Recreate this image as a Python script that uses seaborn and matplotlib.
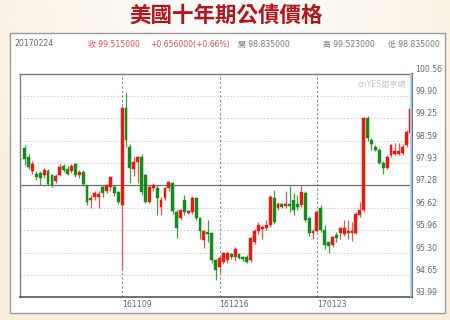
import numpy as np
import pandas as pd
import matplotlib
matplotlib.use("Agg")
import matplotlib.pyplot as plt
from matplotlib.patches import Rectangle
import seaborn as sns

# ---------------- data ----------------
opens = [98.37, 98.12, 97.70, 97.60, 97.63, 97.58, 97.70, 97.58, 97.42, 97.58,
         97.85, 97.76, 97.70, 97.90, 97.57, 97.68, 97.28, 96.86, 96.95, 96.95,
         97.24, 97.12, 97.22, 97.24, 97.09, 96.70,
         99.55, 98.42, 97.76, 97.98, 98.12, 97.58, 96.80, 97.20, 97.19, 96.65,
         96.90, 97.19, 97.34, 96.50, 96.31, 96.85, 96.47, 96.50, 96.90, 96.31,
         95.67, 95.90, 95.87, 95.08,
         94.88, 95.03, 95.08, 95.25, 95.18, 95.26, 95.16, 95.18, 95.08, 95.62,
         95.92, 96.00, 96.02, 96.11, 96.90, 96.62, 96.72, 96.68, 96.72, 96.85,
         96.72, 96.70, 97.05, 96.31, 95.87,
         95.92, 96.60, 95.96, 95.60, 95.52, 95.82, 95.87, 95.84, 95.87, 95.87,
         95.87, 96.41, 96.55, 99.25, 98.62, 98.40, 98.32, 97.93, 97.78, 98.18,
         98.20, 98.20, 98.22, 98.47, 98.835]
closes = [98.06, 97.83, 97.90, 97.52, 97.49, 97.73, 97.32, 97.29, 97.56, 97.83,
          97.74, 97.62, 97.86, 97.58, 97.66, 97.31, 96.80, 96.92, 97.06, 97.02,
          97.06, 97.28, 97.54, 97.04, 96.80, 99.55,
          98.62, 97.78, 97.96, 98.12, 97.09, 96.80, 97.24, 97.29, 96.90, 96.85,
          97.19, 97.39, 96.52, 96.01, 96.55, 96.48, 96.51, 96.92, 96.31, 95.92,
          95.92, 95.86, 95.08, 94.79,
          95.13, 95.28, 95.28, 95.18, 95.40, 95.14, 95.10, 95.03, 95.72, 95.92,
          96.11, 96.04, 96.10, 96.95, 96.21, 96.72, 96.64, 96.72, 96.68, 96.55,
          96.65, 97.09, 96.26, 95.87, 95.92,
          96.50, 95.96, 95.52, 95.50, 95.77, 95.72, 96.01, 96.01, 95.92, 95.92,
          96.45, 96.55, 99.25, 98.67, 98.50, 98.32, 97.93, 97.78, 98.12, 98.47,
          98.30, 98.30, 98.40, 98.86, 99.515]
highs = [98.48, 98.20, 98.00, 97.70, 97.70, 97.80, 97.75, 97.62, 97.60, 97.90,
         97.92, 97.85, 97.90, 97.95, 97.72, 97.72, 97.30, 97.00, 97.10, 97.12,
         97.30, 97.32, 97.56, 97.30, 97.12, 99.58,
         100.04, 98.50, 98.12, 98.15, 98.20, 97.62, 97.30, 97.35, 97.30, 96.95,
         97.22, 97.42, 97.38, 96.56, 96.58, 97.00, 96.55, 96.96, 96.95, 96.35,
         95.96, 96.25, 95.90, 95.12,
         95.20, 95.32, 95.32, 95.30, 95.45, 95.30, 95.20, 95.22, 95.75, 96.00,
         96.20, 96.10, 96.25, 97.00, 97.15, 96.80, 96.75, 97.10, 97.25, 97.05,
         97.00, 97.30, 97.10, 96.35, 95.98,
         96.55, 96.70, 96.10, 95.65, 95.80, 95.90, 96.05, 96.25, 96.25, 96.20,
         96.50, 96.80, 99.28, 99.33, 98.68, 98.48, 98.38, 98.00, 98.16, 98.50,
         98.52, 98.52, 98.50, 98.90, 99.523]
lows = [97.88, 97.75, 97.62, 97.45, 97.30, 97.50, 97.28, 97.22, 97.35, 97.55,
        97.68, 97.58, 97.65, 97.52, 97.50, 97.25, 96.70, 96.60, 96.85, 96.62,
        96.95, 97.05, 97.12, 96.98, 96.72, 94.84,
        98.40, 97.34, 97.55, 97.34, 97.00, 96.75, 96.75, 97.10, 96.40, 96.40,
        96.85, 97.12, 96.45, 95.72, 96.25, 96.40, 96.45, 96.45, 96.25, 95.70,
        95.42, 95.62, 94.98, 94.49,
        94.70, 94.95, 95.00, 95.10, 95.05, 95.10, 95.05, 95.00, 95.02, 95.55,
        95.85, 95.70, 95.95, 96.05, 96.15, 96.55, 96.60, 96.60, 96.50, 96.40,
        96.55, 96.65, 96.20, 95.80, 95.70,
        95.90, 95.90, 95.40, 95.30, 95.45, 95.60, 95.70, 95.80, 95.70, 95.65,
        95.85, 96.35, 96.50, 98.60, 98.32, 98.28, 97.90, 97.62, 97.75, 98.12,
        98.16, 98.16, 98.18, 98.40, 98.835]

y_ticks = [93.99, 94.65, 95.30, 95.96, 96.62, 97.28, 97.93, 98.59, 99.25, 99.90, 100.56]
y_tick_labels = ["93.99", "94.65", "95.30", "95.96", "96.62", "97.28",
                 "97.93", "98.59", "99.25", "99.90", "100.56"]
date_tick_idx = [25, 50, 75]
date_tick_labels = ["161109", "161216", "170123"]
ref_price = 97.28

title = "美國十年期公債價格"
header_date = "20170224"
header_close = "收 99.515000"
header_change = "+0.656000(+0.66%)"
header_open = "開 98.835000"
header_high = "高 99.523000"
header_low = "低 98.835000"
watermark = "cnYES鉅亨網"

df = pd.DataFrame({"open": opens, "close": closes, "high": highs, "low": lows})
df["idx"] = np.arange(len(df))
df["up"] = df["close"] >= df["open"]

# ---------------- style ----------------
sns.set_theme(style="white")
plt.rcParams["font.family"] = ["DejaVu Sans", "Noto Sans CJK TC"]

RED = "#ea1a12"
GREEN = "#138c1c"
RED_W = "#ef5650"
GREEN_W = "#3aa53f"

W, H = 450, 320
fig = plt.figure(figsize=(4.5, 3.2), dpi=100)

# background gradient
bg = fig.add_axes([0, 0, 1, 1], zorder=-10)
yy, xx = np.mgrid[0:H, 0:W]
r = np.sqrt(((xx - 225) / 300.0) ** 2 + ((yy - 0) / 260.0) ** 2)
r = np.clip(r, 0, 1)
c0 = np.array([1.0, 1.0, 1.0])
c1 = np.array([0xf9, 0xee, 0xdc]) / 255.0
img = c0[None, None, :] * (1 - r[..., None]) + c1[None, None, :] * r[..., None]
bg.imshow(img, extent=[0, W, H, 0], aspect="auto")
bg.set_xlim(0, W)
bg.set_ylim(H, 0)
bg.axis("off")

# white panel
bg.add_patch(Rectangle((10, 33), 435, 280, facecolor="white", edgecolor="#9a9a9a", lw=1.0))

# title
bg.text(226, 15, title, ha="center", va="center", fontsize=15.5, color="#b3161c",
        fontweight="bold", family=["Noto Sans CJK TC"])

# header row
hy = 44
bg.text(14, hy, header_date, ha="left", va="center", fontsize=5.6, color="#666666")
bg.text(88, hy, header_close, ha="left", va="center", fontsize=5.6, color="#e8504a")
bg.text(150, hy, header_change, ha="left", va="center", fontsize=5.6, color="#e8504a")
bg.text(238, hy, header_open, ha="left", va="center", fontsize=5.6, color="#777777")
bg.text(323, hy, header_high, ha="left", va="center", fontsize=5.6, color="#777777")
bg.text(388, hy, header_low, ha="left", va="center", fontsize=5.6, color="#777777")

# main axes
left, right, top, bottom = 20, 412, 74, 297
ax = fig.add_axes([left / W, 1 - bottom / H, (right - left) / W, (bottom - top) / H])
ax.set_facecolor("white")
ax.set_xlim(-1.2, 99.4)
ax.set_ylim(93.99, 100.56)

# grid lines
for yv in y_ticks:
    if abs(yv - ref_price) < 1e-6:
        continue
    ax.axhline(yv, color="#d4d4d4", lw=0.8, ls=(0, (1.5, 1.5)), zorder=0)
ax.axhline(ref_price, color="#6e6e6e", lw=0.9, zorder=1)
for xi in date_tick_idx:
    ax.axvline(xi, color="#8c8c8c", lw=0.8, ls=(0, (2, 2)), zorder=0)

# candles
body_w = 0.74
for up, col, wcol in [(True, RED, RED_W), (False, GREEN, GREEN_W)]:
    sub = df[df["up"] == up]
    ax.vlines(sub["idx"], sub["low"], sub["high"], color=wcol, lw=0.9, zorder=2)
    lo = np.minimum(sub["open"], sub["close"])
    hgt = np.maximum(np.abs(sub["close"] - sub["open"]), 0.03)
    ax.bar(sub["idx"], hgt, bottom=lo, width=body_w, color=col, edgecolor=col,
           lw=0.3, zorder=3)

# cursor line at right edge
ax.axvline(99.15, color="#a9d2f2", lw=1.3, zorder=4)

# watermark
ax.text(0.985, 0.955, watermark, transform=ax.transAxes, ha="right", va="center",
        fontsize=5.8, color="#c8c8c8")

# axes ticks
ax.yaxis.tick_right()
ax.set_yticks(y_ticks)
ax.set_yticklabels(y_tick_labels)
ax.tick_params(axis="y", length=0, pad=2.5, labelsize=5.6, labelcolor="#666666")
for lab in ax.get_yticklabels():
    lab.set_va("bottom")
ax.set_xticks(date_tick_idx)
ax.set_xticklabels(date_tick_labels)
ax.tick_params(axis="x", length=0, pad=2.5, labelsize=5.6, labelcolor="#666666")
for lab in ax.get_xticklabels():
    lab.set_ha("left")

for side in ["left", "top"]:
    ax.spines[side].set_color("#7a7a7a")
    ax.spines[side].set_linewidth(1.0)
for side in ["bottom", "right"]:
    ax.spines[side].set_color("#555555")
    ax.spines[side].set_linewidth(1.2)

fig.savefig("out.png", dpi=100)
